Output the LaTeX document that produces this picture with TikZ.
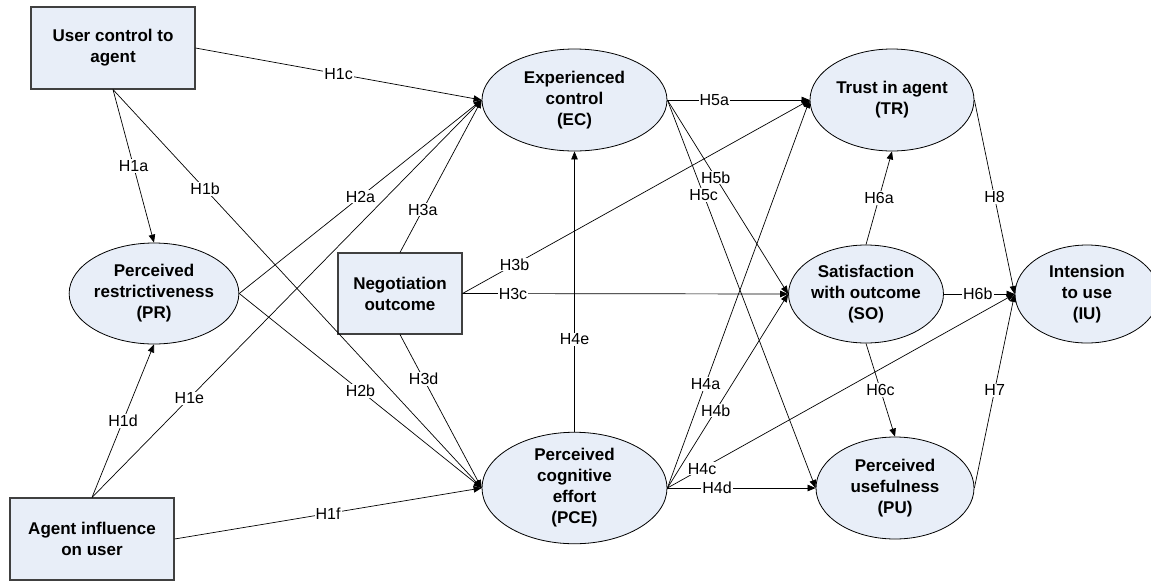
\documentclass[tikz,border=0pt]{standalone}
\usepackage{fontspec}
\setmainfont{Liberation Sans}
\usetikzlibrary{shapes.geometric,arrows.meta}
\definecolor{fillc}{RGB}{232,238,248}
\begin{document}
\begin{tikzpicture}[x=1pt,y=-1pt,
  box/.style={rectangle,draw=black!75,line width=1.1pt,fill=fillc,inner sep=0pt,align=center,font=\fontsize{17}{21}\selectfont\bfseries},
  oval/.style={ellipse,draw=black,line width=0.8pt,fill=fillc,inner sep=0pt,align=center,font=\fontsize{17}{21}\selectfont\bfseries},
  conn/.style={-{Triangle[length=8pt,width=6.5pt]},line width=0.7pt},
  lab/.style={fill=white,inner sep=1pt,font=\fontsize{16}{18}\selectfont}]
\useasboundingbox (0,0) rectangle (1151,582);
\node[box,minimum width=164pt,minimum height=82pt] (UC) at (113,48) {User control to\\agent};
\node[oval,minimum width=164pt,minimum height=101pt] (PR) at (154,293.5) {Perceived\\restrictiveness\\(PR)};
\node[box,minimum width=124pt,minimum height=81pt] (NO) at (400,293.5) {Negotiation\\outcome};
\node[box,minimum width=164pt,minimum height=82pt] (AI) at (92,539) {Agent influence\\on user};
\node[oval,minimum width=185pt,minimum height=102pt] (EC) at (574.5,100) {Experienced\\control\\(EC)};
\node[oval,minimum width=185pt,minimum height=102pt] (PCE) at (574.5,488) {Perceived\\cognitive\\effort\\(PCE)};
\node[oval,minimum width=164pt,minimum height=102pt] (TR) at (892,100) {Trust in agent\\(TR)};
\node[oval,minimum width=152pt,minimum height=98pt] (SO) at (866,294) {Satisfaction\\with outcome\\(SO)};
\node[oval,minimum width=144pt,minimum height=98pt] (IU) at (1087,294) {Intension\\to use\\(IU)};
\node[oval,minimum width=158pt,minimum height=102pt] (PU) at (895,488) {Perceived\\usefulness\\(PU)};

\draw[conn] (UC.east) -- node[lab,pos=0.5]{H1c} (EC.west);
\draw[conn] (UC.south) -- node[lab,pos=0.5]{H1a} (PR.north);
\draw[conn] (UC.south) -- node[lab,pos=0.25]{H1b} (PCE.west);
\draw[conn] (PR.east) -- node[lab,pos=0.5]{H2a} (EC.west);
\draw[conn] (PR.east) -- node[lab,pos=0.5]{H2b} (PCE.west);
\draw[conn] (NO.north) -- node[lab,pos=0.28]{H3a} (EC.west);
\draw[conn] (NO.east) -- node[lab,pos=0.15]{H3b} (TR.west);
\draw[conn] (NO.east) -- node[lab,pos=0.155]{H3c} (SO.west);
\draw[conn] (NO.south) -- node[lab,pos=0.29]{H3d} (PCE.west);
\draw[conn] (AI.north) -- node[lab,pos=0.25]{H1e} (EC.west);
\draw[conn] (AI.north) -- node[lab,pos=0.5]{H1d} (PR.south);
\draw[conn] (AI.east) -- node[lab,pos=0.5]{H1f} (PCE.west);
\draw[conn] (PCE.north) -- node[lab,pos=0.33]{H4e} (EC.south);
\draw[conn] (EC.east) -- node[lab,pos=0.33]{H5a} (TR.west);
\draw[conn] (EC.east) -- node[lab,pos=0.40]{H5b} (SO.west);
\draw[conn] (EC.east) -- node[lab,pos=0.245]{H5c} (PU.west);
\draw[conn] (PCE.east) -- node[lab,pos=0.268]{H4a} (TR.west);
\draw[conn] (PCE.east) -- node[lab,pos=0.40]{H4b} (SO.west);
\draw[conn] (PCE.east) -- node[lab,pos=0.10]{H4c} (IU.west);
\draw[conn] (PCE.east) -- node[lab,pos=0.335]{H4d} (PU.west);
\draw[conn] (SO.north) -- node[lab,pos=0.5]{H6a} (TR.south);
\draw[conn] (SO.south) -- node[lab,pos=0.5]{H6c} (PU.north);
\draw[conn] (SO.east) -- node[lab,pos=0.48]{H6b} (IU.west);
\draw[conn] (TR.east) -- node[lab,pos=0.5]{H8} (IU.west);
\draw[conn] (PU.east) -- node[lab,pos=0.505]{H7} (IU.west);
\end{tikzpicture}
\end{document}
